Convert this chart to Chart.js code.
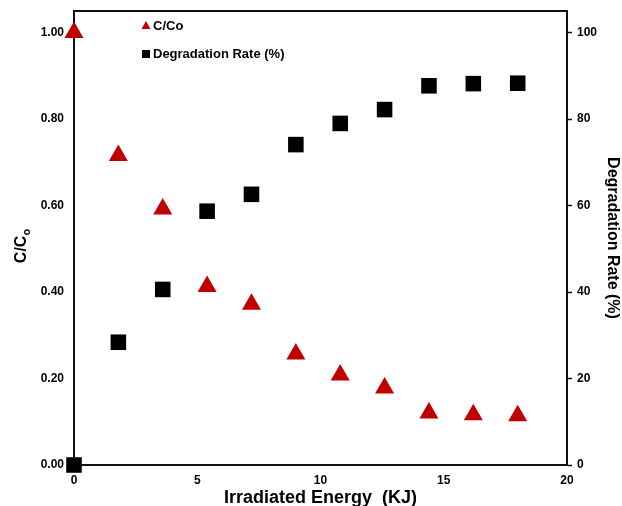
<!DOCTYPE html>
<html>
<head>
<meta charset="utf-8">
<script src="https://cdn.jsdelivr.net/npm/chart.js@4.4.1/dist/chart.umd.min.js"></script>
<style>
  html, body { margin: 0; padding: 0; background: #fff; }
  #wrap { width: 622px; height: 506px; }
</style>
</head>
<body>
<div id="wrap"><canvas id="myChart"></canvas></div>
<script>
// irradiated energy (KJ)
const energy = [0, 1.8, 3.6, 5.4, 7.2, 9.0, 10.8, 12.6, 14.4, 16.2, 18.0];
const ratio = [1.0, 0.716, 0.592, 0.413, 0.372, 0.257, 0.208, 0.178, 0.120, 0.116, 0.114];
const degradation = [0, 28.4, 40.6, 58.7, 62.6, 74.1, 79.0, 82.2, 87.7, 88.2, 88.3];

const xTicks = [0, 5, 10, 15, 20];
const leftTicks = [0, 0.2, 0.4, 0.6, 0.8, 1.0];
const rightTicks = [0, 20, 40, 60, 80, 100];

const red = "#C00000";
const font = "'Liberation Sans', Arial, sans-serif";

// box around the plot, titles and the little legend in the corner
const extras = {
  id: "extras",
  afterDraw(chart) {
    const { ctx, chartArea: a } = chart;
    ctx.save();
    ctx.strokeStyle = "#111";
    ctx.lineWidth = 2;
    ctx.beginPath();
    ctx.moveTo(a.left, a.top);
    ctx.lineTo(a.right, a.top);
    ctx.stroke();

    ctx.fillStyle = "#000";
    // left title C/Co with subscript
    ctx.save();
    ctx.translate(26, 246);
    ctx.rotate(-Math.PI / 2);
    ctx.font = "bold 16px " + font;
    ctx.textBaseline = "alphabetic";
    ctx.textAlign = "left";
    const main = "C/C";
    const w = ctx.measureText(main).width;
    ctx.font = "bold 11px " + font;
    const ws = ctx.measureText("o").width;
    const start = -(w + ws) / 2;
    ctx.font = "bold 16px " + font;
    ctx.fillText(main, start, 0);
    ctx.font = "bold 11px " + font;
    ctx.fillText("o", start + w, 4);
    ctx.restore();

    // legend
    ctx.fillStyle = red;
    ctx.beginPath();
    ctx.moveTo(146, 21);
    ctx.lineTo(150.5, 29);
    ctx.lineTo(141.5, 29);
    ctx.closePath();
    ctx.fill();
    ctx.fillStyle = "#000";
    ctx.fillRect(142, 50, 8, 8);
    ctx.font = "bold 13px " + font;
    ctx.textBaseline = "middle";
    ctx.textAlign = "left";
    ctx.fillText("C/Co", 153, 26);
    ctx.fillText("Degradation Rate (%)", 153, 54);
    ctx.restore();
  },
};

const fitY = (w) => (axis) => {
  axis.width = w;
  axis.paddingTop = 0;
  axis.paddingBottom = 0;
};

const myChart = new Chart(document.querySelector("#myChart"), {
  type: "scatter",
  data: {
    datasets: [
      {
        label: "C/Co",
        data: energy.map((x, i) => ({ x, y: ratio[i] })),
        yAxisID: "y",
        pointStyle: "triangle",
        pointRadius: 11,
        pointHoverRadius: 11,
        backgroundColor: red,
        borderColor: red,
        borderWidth: 0,
        clip: false,
      },
      {
        label: "Degradation Rate (%)",
        data: energy.map((x, i) => ({ x, y: degradation[i] })),
        yAxisID: "y2",
        pointStyle: "rect",
        pointRadius: 11,
        pointHoverRadius: 11,
        backgroundColor: "#000",
        borderColor: "#000",
        borderWidth: 0,
        clip: false,
      },
    ],
  },
  options: {
    responsive: true,
    maintainAspectRatio: false,
    animation: false,
    layout: { padding: { top: 10, left: 0, right: 0, bottom: 0 } },
    plugins: {
      legend: { display: false },
      tooltip: { enabled: false },
    },
    scales: {
      x: {
        type: "linear",
        min: 0,
        max: 20,
        afterBuildTicks: (axis) => { axis.ticks = xTicks.map((v) => ({ value: v })); },
        afterFit: (axis) => {
          axis.height = 41;
          axis.paddingLeft = 0;
          axis.paddingRight = 0;
        },
        grid: { display: false, drawTicks: false },
        border: { color: "#111", width: 2 },
        ticks: {
          padding: 8,
          color: "#000",
          font: { family: font, weight: "bold", size: 12 },
          maxRotation: 0,
        },
        title: {
          display: true,
          text: "Irradiated Energy  (KJ)",
          color: "#000",
          font: { family: font, weight: "bold", size: 18 },
          padding: { top: 0, bottom: -3 },
        },
      },
      y: {
        type: "linear",
        position: "left",
        min: 0,
        max: 1.05,
        afterBuildTicks: (axis) => { axis.ticks = leftTicks.map((v) => ({ value: v })); },
        afterFit: fitY(74),
        grid: { display: false, drawTicks: false },
        border: { color: "#111", width: 2 },
        ticks: {
          padding: 10,
          color: "#000",
          font: { family: font, weight: "bold", size: 12 },
          callback: (v) => v.toFixed(2),
        },
      },
      y2: {
        type: "linear",
        position: "right",
        min: 0,
        max: 105,
        afterBuildTicks: (axis) => { axis.ticks = rightTicks.map((v) => ({ value: v })); },
        afterFit: fitY(55),
        grid: { display: true, drawOnChartArea: false, drawTicks: true, tickLength: 5, tickColor: "#111", tickWidth: 1.5 },
        border: { color: "#111", width: 2 },
        ticks: {
          padding: 5,
          color: "#000",
          font: { family: font, weight: "bold", size: 12 },
        },
        title: {
          display: true,
          text: "Degradation Rate (%)",
          color: "#000",
          font: { family: font, weight: "bold", size: 16 },
          padding: { top: 0, bottom: 2 },
        },
      },
    },
  },
  plugins: [extras],
});
</script>
</body>
</html>
